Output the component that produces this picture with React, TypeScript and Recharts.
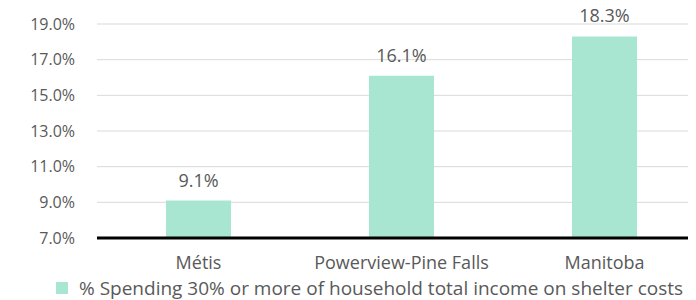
import React from "react";
import { Bar, BarChart, CartesianGrid, LabelList, XAxis, YAxis } from "recharts";

const categories = ["Métis", "Powerview-Pine Falls", "Manitoba"];
const shelterShare = [9.1, 16.1, 18.3];
const yTicks = [7, 9, 11, 13, 15, 17, 19];
const seriesName = "% Spending 30% or more of household total income on shelter costs";

const data = categories.map((name, i) => ({ name, value: shelterShare[i] }));

const FONT = "'Open Sans', sans-serif";
const TEXT = "#595959";
const BAR = "#a8e6d2";

function LegendRow() {
  return (
    <div
      style={{
        position: "absolute",
        left: 56,
        top: 277,
        height: 22,
        display: "flex",
        alignItems: "center",
        fontFamily: FONT,
        fontSize: 19,
        color: TEXT,
        whiteSpace: "nowrap",
      }}
    >
      <span style={{ width: 12, height: 12, background: BAR, marginRight: 11 }} />
      {seriesName}
    </div>
  );
}

export default function App() {
  return (
    <div
      style={{
        position: "relative",
        marginLeft: -8,
        marginTop: -8,
        width: 696,
        height: 300,
        overflow: "hidden",
      }}
    >
      <BarChart
        width={706}
        height={300}
        data={data}
        margin={{ top: 24, right: 0, bottom: 32, left: 0 }}
        barCategoryGap="34%"
      >
        <CartesianGrid vertical={false} stroke="#d9d9d9" />
        <YAxis
          width={97}
          domain={[7, 19]}
          ticks={yTicks}
          axisLine={false}
          tickLine={false}
          tickMargin={16}
          tickFormatter={(v: number) => v.toFixed(1) + "%"}
          tick={{ fill: TEXT, fontSize: 16, fontFamily: FONT }}
        />
        <XAxis
          dataKey="name"
          height={30}
          axisLine={{ stroke: "#000", strokeWidth: 3 }}
          tickLine={false}
          tickMargin={12}
          interval={0}
          tick={{ fill: TEXT, fontSize: 18, fontFamily: FONT }}
        />
        <Bar dataKey="value" name={seriesName} fill={BAR} isAnimationActive={false}>
          <LabelList
            dataKey="value"
            position="top"
            offset={14}
            formatter={(v: number) => v.toFixed(1) + "%"}
            style={{ fill: TEXT, fontSize: 18, fontFamily: FONT }}
          />
        </Bar>
      </BarChart>
      <LegendRow />
    </div>
  );
}
